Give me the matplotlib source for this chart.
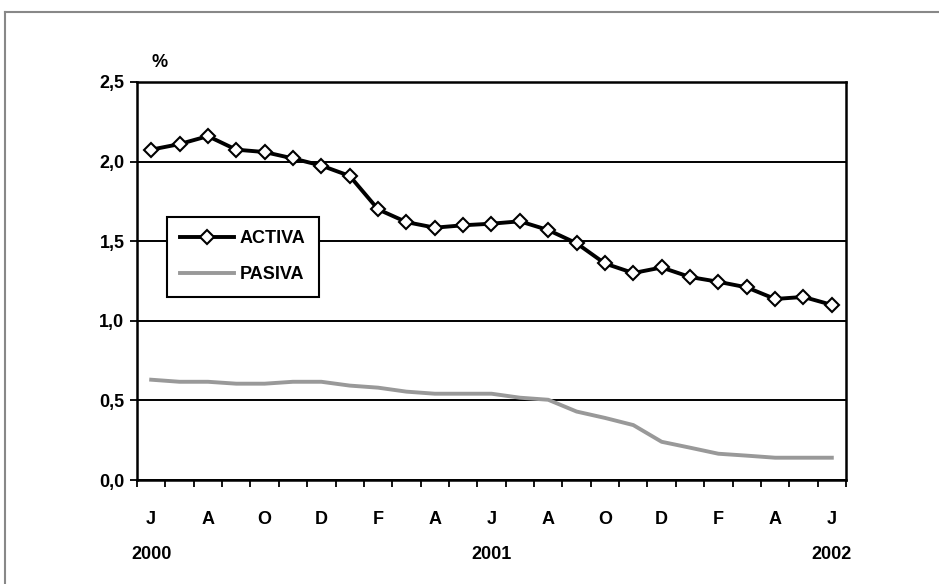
import matplotlib.pyplot as plt
import numpy as np

plt.rcParams['font.family'] = ['Liberation Sans Narrow', 'Liberation Sans', 'DejaVu Sans']
plt.rcParams['font.weight'] = 'bold'

# datos mensuales jun-2000 .. jun-2002
meses = ["J", "", "A", "", "O", "", "D", "", "F", "", "A", "", "J",
         "", "A", "", "O", "", "D", "", "F", "", "A", "", "J"]
anios = {0: "2000", 12: "2001", 24: "2002"}
activa = [2.075, 2.11, 2.16, 2.075, 2.06, 2.02, 1.975, 1.91, 1.70, 1.62,
          1.585, 1.60, 1.61, 1.625, 1.57, 1.487, 1.36, 1.30, 1.335, 1.275,
          1.245, 1.21, 1.137, 1.15, 1.10]
pasiva = [0.63, 0.617, 0.617, 0.605, 0.605, 0.617, 0.617, 0.593, 0.58, 0.555,
          0.542, 0.542, 0.542, 0.517, 0.504, 0.43, 0.39, 0.345, 0.24, 0.203,
          0.165, 0.153, 0.14, 0.14, 0.14]

x = np.arange(len(activa))

fig = plt.figure(figsize=(9.39, 5.84), dpi=100)
ax = fig.add_axes([137/939, 1 - 480/584, 709/939, 398/584])

ax.plot(x, activa, color="black", lw=2.8, marker="D", ms=7, mfc="white",
        mec="black", mew=1.5, label="ACTIVA", zorder=3)
ax.plot(x, pasiva, color="#999999", lw=2.8, label="PASIVA", zorder=3)

ax.set_xlim(-0.5, len(x) - 0.5)
ax.set_ylim(0, 2.5)
ax.set_yticks([0, 0.5, 1.0, 1.5, 2.0, 2.5])
ax.set_yticklabels(["0,0", "0,5", "1,0", "1,5", "2,0", "2,5"], fontsize=13)
ax.yaxis.grid(True, color="black", lw=1.4)
ax.set_axisbelow(True)

ax.set_xticks(np.arange(len(x) + 1) - 0.5)
ax.set_xticklabels([])
ax.tick_params(axis="x", length=5, width=1.3, direction="out", color="black")
ax.tick_params(axis="y", length=5, width=1.3, direction="out", color="black", pad=4)

for i, m in enumerate(meses):
    if m:
        ax.text(i, -0.25, m, ha="center", va="center", fontsize=13,
                fontweight="bold", clip_on=False)
for i, a in anios.items():
    ax.text(i, -0.47, a, ha="center", va="center", fontsize=13,
            fontweight="bold", clip_on=False)

for s in ax.spines.values():
    s.set_color("black")
    s.set_linewidth(1.8)

ax.text(0.3, 2.625, "%", ha="center", va="center", fontsize=13, fontweight="bold")

leg = ax.legend(loc="upper left", bbox_to_anchor=(0.042, 0.661), borderaxespad=0,
                fancybox=False, edgecolor="black", framealpha=1,
                prop={"size": 13, "weight": "bold"}, handlelength=3.0,
                borderpad=0.75, labelspacing=1.05, handletextpad=0.3)
leg.get_frame().set_linewidth(1.5)

# marco gris exterior (arriba e izquierda)
fig.add_artist(plt.Line2D([5/939, 5/939], [0, 1 - 12/584], color="#888888", lw=1.5))
fig.add_artist(plt.Line2D([5/939, 1], [1 - 12/584, 1 - 12/584], color="#888888", lw=1.5))

fig.savefig("out.png", dpi=100)
